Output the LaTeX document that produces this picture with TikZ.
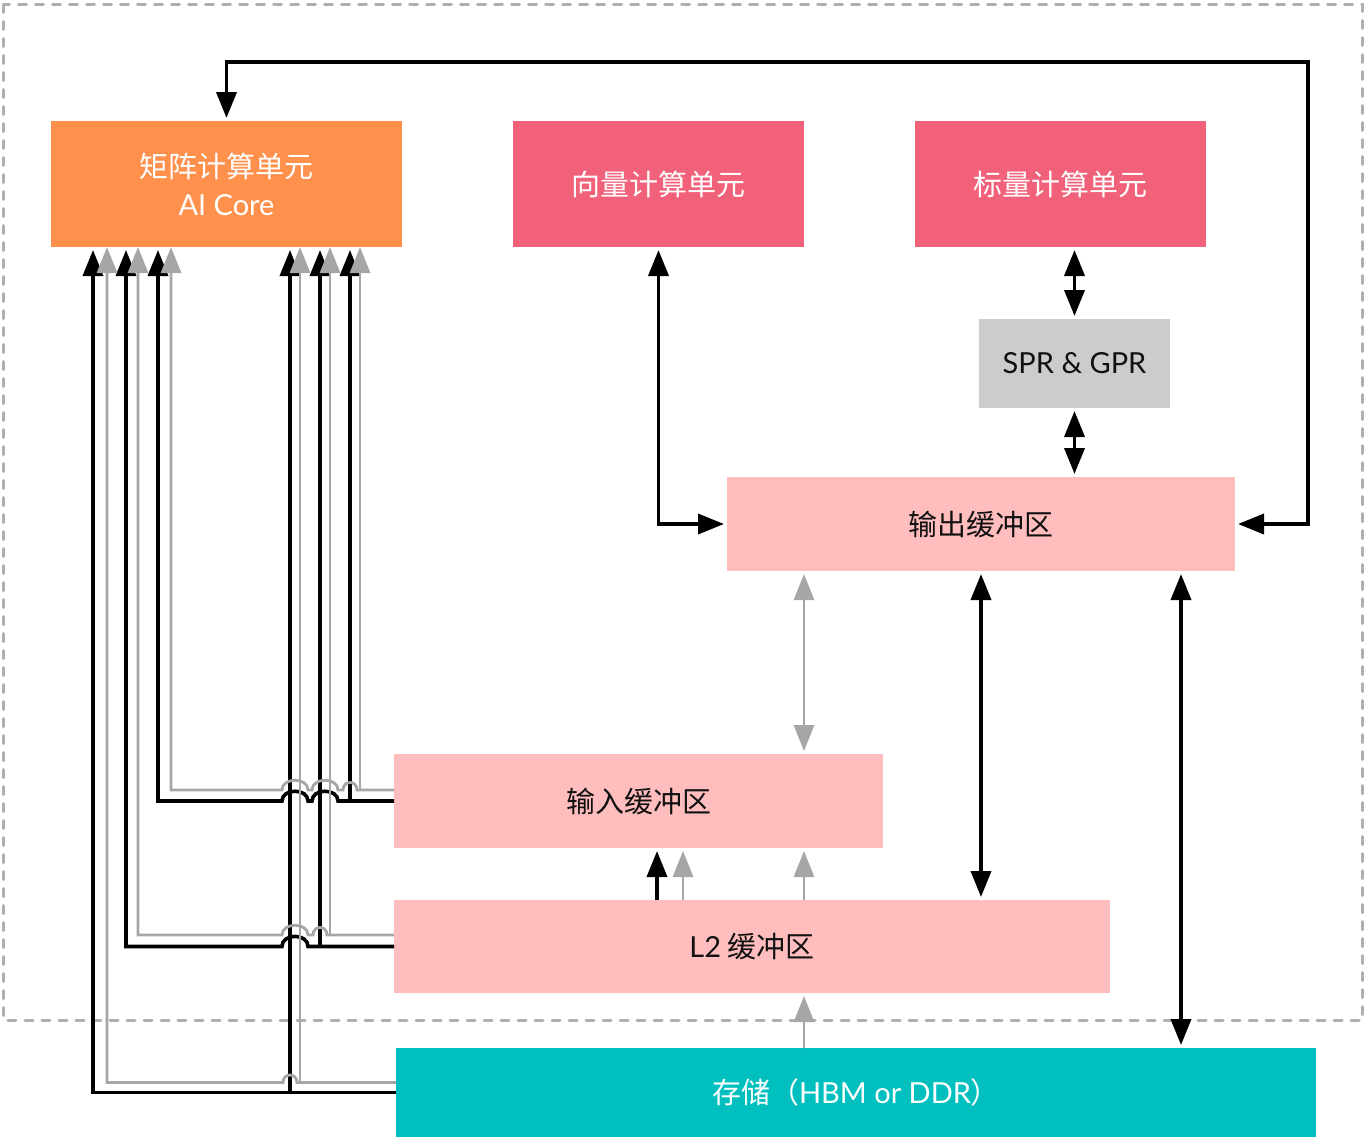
\documentclass[tikz,border=0pt]{standalone}
\usepackage{fontspec}
\setmainfont{Noto Sans CJK SC}
\newfontfamily\latfont{Lato}
\usetikzlibrary{arrows.meta}

\definecolor{corecol}{HTML}{FF914D}
\definecolor{unitcol}{HTML}{F1627A}
\definecolor{regcol}{HTML}{CCCCCC}
\definecolor{bufcol}{HTML}{FFBDBD}
\definecolor{memcol}{HTML}{00BFBF}
\definecolor{linegray}{HTML}{A6A6A6}
\definecolor{framegray}{HTML}{AFAFAF}
\definecolor{txtcol}{HTML}{111111}

\begin{document}
\begin{tikzpicture}[x=1pt,y=-1pt,
  box/.style 2 args={minimum width=#1pt,minimum height=#2pt,inner sep=0pt,outer sep=0pt,
    align=center,font=\fontsize{29}{38}\selectfont},
  blk/.style={draw=black,line width=3.6pt},
  gry/.style={draw=linegray,line width=2.8pt},
  tip/.style={-{Triangle[length=26pt,width=20pt]}},
  tips/.style={{Triangle[length=26pt,width=20pt]}-{Triangle[length=26pt,width=20pt]},
    shorten >=3pt,shorten <=3pt}]

\useasboundingbox (0,0) rectangle (1366,1141);

% outer frame
\draw[framegray,line width=3pt,dash pattern=on 8pt off 9pt,line cap=round]
  (3.5,4.5) rectangle (1362.5,1020);

% units and buffers
\node[box={351}{126},fill=corecol,text=white] (ai) at (226.5,184) {矩阵计算单元\\{\latfont AI Core}};
\node[box={291}{126},fill=unitcol,text=white] (vec) at (658.5,184) {向量计算单元};
\node[box={291}{126},fill=unitcol,text=white] (sca) at (1060.5,184) {标量计算单元};
\node[box={191}{89},fill=regcol,text=txtcol] (reg) at (1074.5,363.5) {\latfont SPR \& GPR};
\node[box={508}{94},fill=bufcol,text=txtcol] (out) at (981,524) {输出缓冲区};
\node[box={489}{94},fill=bufcol,text=txtcol] (inb) at (638.5,801) {输入缓冲区};
\node[box={716}{93},fill=bufcol,text=txtcol] (l2) at (752,946.5) {{\latfont L2} 缓冲区};
\node[box={920}{89},fill=memcol,text=white] (mem) at (856,1092.5) {存储（{\latfont HBM or DDR}）};

% column positions
\coordinate (fb) at (1308,62);
\coordinate (x657) at (657,0);
\coordinate (x683) at (683,0);
\coordinate (x804) at (804,0);
\coordinate (x1181) at (1181,0);
\coordinate (k93) at (93,0);
\coordinate (k107) at (107,0);
\coordinate (k126) at (126,0);
\coordinate (k138) at (138,0);
\coordinate (k158) at (158,0);
\coordinate (k171) at (171,0);
\coordinate (k290) at (290,0);
\coordinate (k300) at (300,0);
\coordinate (k320) at (320,0);
\coordinate (k330) at (330,0);
\coordinate (k350) at (350,0);
\coordinate (k360) at (360,0);

% right-hand connections
\draw[blk,tips] (out.east) -- (fb |- out.east) -- (fb) -| (ai.north);
\draw[blk,tips] (vec.south) |- (out.west);
\draw[blk,tips] (reg.north |- sca.south) -- (reg.north);
\draw[blk,tips] (reg.south) -- (reg.south |- out.north);
\draw[gry,tips] (x804 |- out.south) -- (x804 |- inb.north);
\draw[blk,tips] (out.south) -- (out.south |- l2.north);
\draw[blk,tips] (x1181 |- out.south) -- (x1181 |- mem.north);
\draw[blk,tip,shorten >=3pt] (x657 |- l2.north) -- (x657 |- inb.south);
\draw[gry,tip,shorten >=3pt] (x683 |- l2.north) -- (x683 |- inb.south);
\draw[gry,tip,shorten >=3pt] (x804 |- l2.north) -- (x804 |- inb.south);
\draw[gry,tip,shorten >=3pt] (x804 |- mem.north) -- (x804 |- l2.south);

% feeds into the matrix unit (black)
\draw[blk,tip,shorten >=3pt] (mem.west) -| (k93 |- ai.south);
\draw[blk,tip,shorten >=3pt] (mem.west) -| (k290 |- ai.south);
\draw[blk,tip,shorten >=3pt] (l2.west) -| (k320 |- ai.south);
\draw[blk,tip,shorten >=3pt] (l2.west) -- (308,946.5)
  .. controls (308,933) and (282,933) .. (282,946.5) -| (k126 |- ai.south);
\draw[blk,tip,shorten >=3pt] (inb.west) -| (k350 |- ai.south);
\draw[blk,tip,shorten >=3pt] (inb.west) -- (338,801)
  .. controls (338,788) and (312,788) .. (312,801) -- (308,801)
  .. controls (308,788) and (282,788) .. (282,801) -| (k158 |- ai.south);

% feeds into the matrix unit (gray)
\draw[gry,tip] ([yshift=10pt]mem.west) -| (k300 |- ai.south);
\draw[gry,tip] ([yshift=10pt]mem.west) -- (297,1082.5)
  .. controls (297,1072.5) and (283,1072.5) .. (283,1082.5) -| (k107 |- ai.south);
\draw[gry,tip] ([yshift=11.5pt]l2.west) -| (k330 |- ai.south);
\draw[gry,tip] ([yshift=11.5pt]l2.west) -- (327,935)
  .. controls (327,925) and (313,925) .. (313,935) -- (308,935)
  .. controls (308,922) and (282,922) .. (282,935) -| (k138 |- ai.south);
\draw[gry,tip] ([yshift=11pt]inb.west) -| (k360 |- ai.south);
\draw[gry,tip] ([yshift=11pt]inb.west) -- (357,790)
  .. controls (357,780) and (343,780) .. (343,790) -- (338,790)
  .. controls (338,777) and (312,777) .. (312,790) -- (308,790)
  .. controls (308,777) and (282,777) .. (282,790) -| (k171 |- ai.south);

\end{tikzpicture}
\end{document}
